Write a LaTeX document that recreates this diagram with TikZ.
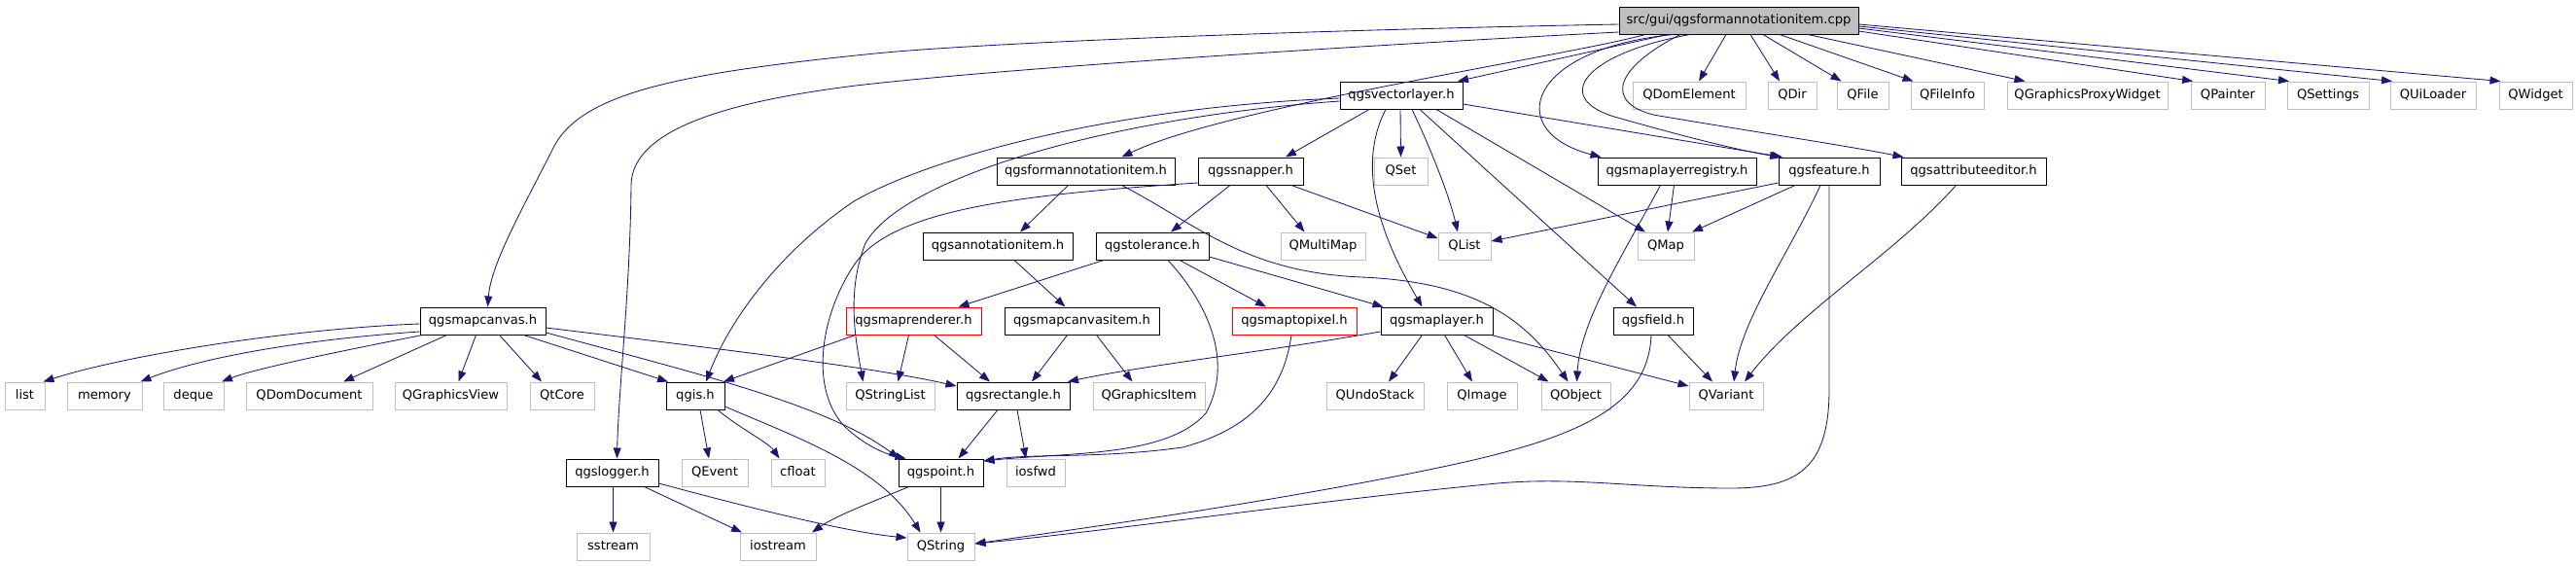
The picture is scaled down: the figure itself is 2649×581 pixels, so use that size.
\documentclass[tikz,border=0pt]{standalone}
\usepackage{fontspec}
\setmainfont{DejaVu Sans}
\usetikzlibrary{arrows.meta}
\definecolor{edgeblue}{HTML}{191970}
\definecolor{greyseventyfive}{HTML}{BFBFBF}
\tikzset{
  base/.style={rectangle, inner sep=0pt, minimum height=28pt, text height=10pt, text depth=3pt, font=\fontsize{13.1}{15}\selectfont},
  ext/.style={base, draw=greyseventyfive, line width=1pt},
  doc/.style={base, draw=black, line width=1pt},
  trunc/.style={base, draw=red, line width=1pt},
  rootn/.style={base, draw=black, fill=greyseventyfive, line width=1pt},
  e/.style={draw=edgeblue, line width=0.85pt, -{Triangle[length=11pt,width=8pt]}},
}
\begin{document}
\begin{tikzpicture}[x=1pt,y=-1pt]
\useasboundingbox (0,0) rectangle (2649,581);
% row 1
\node[rootn, minimum width=246] (root) at (1788,21) {src/gui/qgsformannotationitem.cpp};
% row 2
\node[doc, minimum width=126] (vl) at (1441,98) {qgsvectorlayer.h};
\node[ext, minimum width=116] (qde) at (1737,98) {QDomElement};
\node[ext, minimum width=50] (qdir) at (1843,98) {QDir};
\node[ext, minimum width=53] (qfile) at (1915.5,98) {QFile};
\node[ext, minimum width=75] (qfi) at (2002.5,98) {QFileInfo};
\node[ext, minimum width=165] (qgpw) at (2146.5,98) {QGraphicsProxyWidget};
\node[ext, minimum width=76] (qpainter) at (2291,98) {QPainter};
\node[ext, minimum width=84] (qsettings) at (2394,98) {QSettings};
\node[ext, minimum width=88] (quil) at (2502,98) {QUiLoader};
\node[ext, minimum width=75] (qwidget) at (2607.5,98) {QWidget};
% row 3
\node[doc, minimum width=183] (fah) at (1116.5,176) {qgsformannotationitem.h};
\node[doc, minimum width=108] (snap) at (1286,176) {qgssnapper.h};
\node[ext, minimum width=55] (qset) at (1440.5,176) {QSet};
\node[doc, minimum width=163] (mlr) at (1724.5,176) {qgsmaplayerregistry.h};
\node[doc, minimum width=104] (feat) at (1881,176) {qgsfeature.h};
\node[doc, minimum width=149] (attr) at (2029.5,176) {qgsattributeeditor.h};
% row 4
\node[doc, minimum width=154] (ann) at (1026,253) {qgsannotationitem.h};
\node[doc, minimum width=116] (tol) at (1185,253) {qgstolerance.h};
\node[ext, minimum width=87] (qmm) at (1360.5,253) {QMultiMap};
\node[ext, minimum width=54] (qlist) at (1506,253) {QList};
\node[ext, minimum width=58] (qmap) at (1713,253) {QMap};
% row 5
\node[doc, minimum width=129] (mc) at (496.5,330) {qgsmapcanvas.h};
\node[trunc, minimum width=139] (mr) at (939.5,330) {qgsmaprenderer.h};
\node[doc, minimum width=159] (mci) at (1112.5,330) {qgsmapcanvasitem.h};
\node[trunc, minimum width=128] (mtp) at (1331,330) {qgsmaptopixel.h};
\node[doc, minimum width=115] (ml) at (1477.5,330) {qgsmaplayer.h};
\node[doc, minimum width=82] (fld) at (1700,330) {qgsfield.h};
% row 6
\node[ext, minimum width=41] (list) at (25.5,407) {list};
\node[ext, minimum width=77] (memory) at (107.5,407) {memory};
\node[ext, minimum width=62] (deque) at (199,407) {deque};
\node[ext, minimum width=130] (qdd) at (318,407) {QDomDocument};
\node[ext, minimum width=115] (qgv) at (463.5,407) {QGraphicsView};
\node[ext, minimum width=66] (qtcore) at (578,407) {QtCore};
\node[doc, minimum width=60] (qgis) at (715,407) {qgis.h};
\node[ext, minimum width=91] (qsl) at (915.5,407) {QStringList};
\node[doc, minimum width=116] (rect) at (1042,407) {qgsrectangle.h};
\node[ext, minimum width=115] (qgi) at (1181.5,407) {QGraphicsItem};
\node[ext, minimum width=100] (qus) at (1414,407) {QUndoStack};
\node[ext, minimum width=72] (qimg) at (1524,407) {QImage};
\node[ext, minimum width=71] (qobj) at (1620.5,407) {QObject};
\node[ext, minimum width=76] (qvar) at (1775,407) {QVariant};
% row 7
\node[doc, minimum width=95] (log) at (629.5,486) {qgslogger.h};
\node[ext, minimum width=68] (qev) at (735,486) {QEvent};
\node[ext, minimum width=55] (cfl) at (820.5,486) {cfloat};
\node[doc, minimum width=87] (pt) at (967.5,486) {qgspoint.h};
\node[ext, minimum width=60] (iosfwd) at (1065,486) {iosfwd};
% row 8
\node[ext, minimum width=75] (sst) at (630.5,562) {sstream};
\node[ext, minimum width=78] (ios) at (800,562) {iostream};
\node[ext, minimum width=69] (qstr) at (967.5,562) {QString};

% ---- root edges
\draw[e] ([xshift=-13]root.south) -- ([xshift=10]qde.north);
\draw[e] ([xshift=12]root.south) -- ([xshift=-13]qdir.north);
\draw[e] ([xshift=25]root.south) -- ([xshift=-22]qfile.north);
\draw[e] ([xshift=42]root.south) -- ([xshift=-35]qfi.north);
\draw[e] ([xshift=71]root.south) -- ([xshift=-64]qgpw.north);
\draw[e] ([yshift=-11]root.east) -- ([xshift=-36]qpainter.north);
\draw[e] ([yshift=-8]root.east) -- ([xshift=-40]qsettings.north);
\draw[e] ([yshift=-6]root.east) -- ([xshift=-42]quil.north);
\draw[e] ([yshift=-4]root.east) -- ([xshift=-36]qwidget.north);
\draw[e] ([xshift=-73]root.south) -- ([xshift=58]vl.north);
\draw[e] ([xshift=-96]root.south) .. controls (1610,58) and (1260,110) .. ([xshift=37]fah.north);
\draw[e] ([xshift=-67]root.south) .. controls (1570,50) and (1545,135) .. ([xshift=-78]mlr.north);
\draw[e] ([xshift=-50]root.south) .. controls (1630,55) and (1595,100) .. (1660,120) .. controls (1730,140) and (1790,155) .. ([xshift=-50]feat.north);
\draw[e] ([xshift=-60]root.south) .. controls (1660,70) and (1650,105) .. (1700,118) .. controls (1800,135) and (1900,150) .. ([xshift=-72]attr.north);
\draw[e] ([yshift=-4]root.west) .. controls (1300,32) and (1000,45) .. (900,55) .. controls (700,75) and (600,95) .. (570,150) .. controls (540,210) and (505,270) .. ([xshift=5]mc.north);
\draw[e] ([yshift=-12]root.west) .. controls (1300,52) and (1000,74) .. (880,88) .. controls (760,103) and (650,130) .. (649,190) .. controls (648,300) and (636,400) .. ([xshift=5]log.north);

% ---- qgsvectorlayer.h
\draw[e] ([xshift=-33]vl.south) -- ([xshift=36]snap.north);
\draw[e] ([xshift=-16]vl.south) .. controls (1390,180) and (1430,260) .. ([xshift=-15]ml.north);
\draw[e] ([xshift=-1]vl.south) -- (qset.north);
\draw[e] ([xshift=11]vl.south) .. controls (1470,150) and (1490,200) .. ([xshift=-7]qlist.north);
\draw[e] ([xshift=19]vl.south) -- ([xshift=-17]fld.north);
\draw[e] ([xshift=36]vl.south) -- ([xshift=-21]qmap.north);
\draw[e] ([yshift=-9]vl.east) -- ([xshift=-48]feat.north);
\draw[e] ([yshift=-3]vl.west) .. controls (1150,110) and (960,160) .. (878,207) .. controls (800,260) and (750,330) .. ([xshift=11]qgis.north);
\draw[e] ([yshift=-6]vl.west) .. controls (1150,120) and (930,180) .. (890,250) .. controls (870,300) and (880,350) .. ([xshift=-28]qsl.north);

% ---- qgsformannotationitem.h
\draw[e] ([xshift=-18]fah.south) -- ([xshift=23]ann.north);
\draw[e] ([xshift=37]fah.south) .. controls (1230,230) and (1280,280) .. (1400,285) .. controls (1520,290) and (1570,330) .. ([xshift=-8]qobj.north);

% ---- qgssnapper.h
\draw[e] ([xshift=-21]snap.south) -- ([xshift=19]tol.north);
\draw[e] ([xshift=16]snap.south) -- ([xshift=-19]qmm.north);
\draw[e] ([xshift=42]snap.south) -- ([yshift=8]qlist.west);
\draw[e] ([yshift=-12]snap.west) .. controls (1050,200) and (920,215) .. (880,270) .. controls (845,320) and (830,400) .. (870,440) .. controls (890,458) and (908,466) .. ([xshift=-36]pt.north);

% ---- qgsannotationitem.h
\draw[e] ([xshift=17]ann.south) -- ([xshift=-17]mci.north);

% ---- qgstolerance.h
\draw[e] ([xshift=-50]tol.south) -- ([xshift=46]mr.north);
\draw[e] ([xshift=28]tol.south) -- ([xshift=-29]mtp.north);
\draw[e] ([yshift=-11]tol.east) -- ([xshift=-55]ml.north);
\draw[e] ([xshift=16]tol.south) .. controls (1240,310) and (1270,370) .. (1240,425) .. controls (1200,470) and (1100,465) .. ([yshift=12]pt.east);

% ---- qgsmaptopixel.h
\draw[e] ([xshift=-3]mtp.south) .. controls (1320,400) and (1290,440) .. (1216,460) .. controls (1130,472) and (1060,466) .. ([yshift=12]pt.east);

% ---- qgsmapcanvas.h
\draw[e] ([yshift=-3]mc.west) .. controls (300,338) and (130,365) .. ([xshift=19]list.north);
\draw[e] ([yshift=-11]mc.west) .. controls (300,350) and (200,370) .. ([xshift=37]memory.north);
\draw[e] ([xshift=-62]mc.south) .. controls (330,365) and (260,380) .. ([xshift=29]deque.north);
\draw[e] ([xshift=-37]mc.south) -- ([xshift=35]qdd.north);
\draw[e] ([xshift=-7]mc.south) -- ([xshift=8]qgv.north);
\draw[e] ([xshift=17]mc.south) -- ([xshift=-21]qtcore.north);
\draw[e] ([xshift=42]mc.south) -- ([xshift=-28]qgis.north);
\draw[e] ([yshift=-7]mc.east) .. controls (750,360) and (900,378) .. ([yshift=10]rect.west);
\draw[e] ([yshift=-12]mc.east) .. controls (700,380) and (850,415) .. ([xshift=-43]pt.north);

% ---- qgsmaprenderer.h
\draw[e] ([xshift=-5]mr.south) -- ([xshift=8]qsl.north);
\draw[e] ([xshift=21]mr.south) -- ([xshift=-24]rect.north);
\draw[e] ([xshift=-60]mr.south) -- ([xshift=29]qgis.north);

% ---- qgsmapcanvasitem.h
\draw[e] ([xshift=-15]mci.south) -- ([xshift=19]rect.north);
\draw[e] ([xshift=15]mci.south) -- ([xshift=-17]qgi.north);

% ---- qgsmaplayer.h
\draw[e] ([yshift=-11]ml.west) .. controls (1300,362) and (1180,375) .. ([xshift=56]rect.north);
\draw[e] ([xshift=-15]ml.south) -- ([xshift=14]qus.north);
\draw[e] ([xshift=8]ml.south) -- ([xshift=-10]qimg.north);
\draw[e] ([xshift=28]ml.south) -- ([xshift=-28]qobj.north);
\draw[e] ([xshift=56]ml.south) -- ([yshift=10]qvar.west);

% ---- qgsfield.h
\draw[e] ([xshift=15]fld.south) -- ([xshift=-14]qvar.north);
\draw[e] ([xshift=-2]fld.south) .. controls (1695,420) and (1620,452) .. (1474,482) .. controls (1300,518) and (1100,545) .. ([yshift=3]qstr.east);

% ---- qgsmaplayerregistry.h
\draw[e] ([xshift=-3]mlr.south) -- ([xshift=2]qmap.north);
\draw[e] ([xshift=-17]mlr.south) .. controls (1670,260) and (1625,330) .. ([xshift=1]qobj.north);

% ---- qgsfeature.h
\draw[e] ([yshift=-12]feat.west) -- ([yshift=5]qlist.east);
\draw[e] ([xshift=-35]feat.south) -- ([xshift=27]qmap.north);
\draw[e] ([xshift=-9]feat.south) .. controls (1840,260) and (1790,330) .. ([xshift=8]qvar.north);
\draw[e] (feat.south) -- (1881,400) .. controls (1881,480) and (1850,502) .. (1780,502) .. controls (1680,502) and (1620,490) .. (1540,497) .. controls (1350,515) and (1150,545) .. ([yshift=3]qstr.east);

% ---- qgsattributeeditor.h
\draw[e] ([xshift=-18]attr.south) .. controls (1950,260) and (1850,320) .. ([xshift=19]qvar.north);

% ---- qgis.h
\draw[e] ([xshift=5]qgis.south) -- ([xshift=-6]qev.north);
\draw[e] ([xshift=23]qgis.south) .. controls (760,440) and (790,455) .. ([xshift=-19]cfl.north);
\draw[e] ([yshift=-11]qgis.east) .. controls (820,450) and (905,480) .. ([xshift=-21]qstr.north);

% ---- qgsrectangle.h
\draw[e] ([xshift=-16]rect.south) -- ([xshift=18]pt.north);
\draw[e] ([xshift=4]rect.south) -- ([xshift=-10]iosfwd.north);

% ---- qgspoint.h
\draw[e] (pt.south) -- (qstr.north);
\draw[e] ([xshift=-33]pt.south) .. controls (900,515) and (860,530) .. ([xshift=35]ios.north);

% ---- qgslogger.h
\draw[e] ([xshift=1]log.south) -- (sst.north);
\draw[e] ([xshift=33]log.south) -- ([xshift=-37]ios.north);
\draw[e] ([yshift=-11]log.east) .. controls (800,530) and (880,548) .. ([yshift=9]qstr.west);
\end{tikzpicture}
\end{document}
